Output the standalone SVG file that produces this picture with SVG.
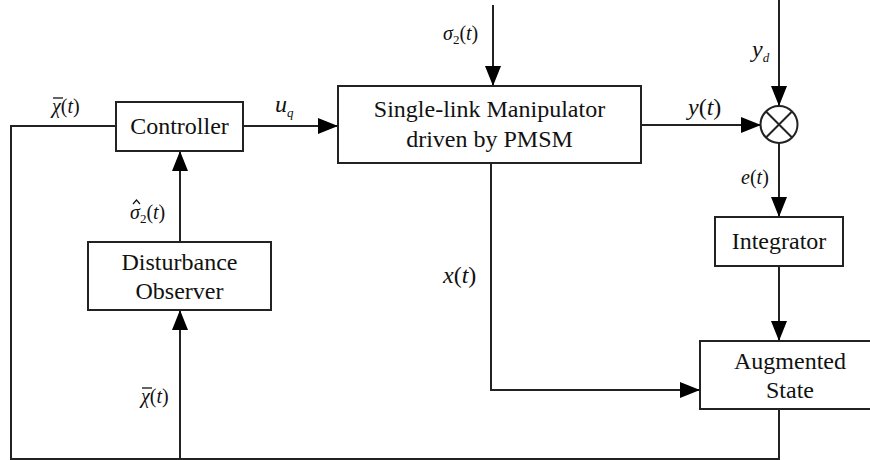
<svg xmlns="http://www.w3.org/2000/svg" width="870" height="460" viewBox="0 0 870 460">
<style>
.box{fill:#fff;stroke:#222;stroke-width:2}
.ln{fill:none;stroke:#222;stroke-width:2}
text{font-family:"Liberation Serif","Times New Roman",serif;fill:#111}
.t{font-size:24px;text-anchor:middle}
.m{font-style:italic;font-size:20px}
.mb{font-style:italic;font-size:24px}
.s{font-size:13px}
.n{font-style:normal}
</style>
<defs>
<marker id="ar" markerUnits="userSpaceOnUse" markerWidth="20" markerHeight="16" refX="20" refY="8" orient="auto">
<path d="M0,0 L20,8 L0,16 Z" fill="#000"/>
</marker>
</defs>
<g id="connectors">
<path class="ln" d="M243,126 H338" marker-end="url(#ar)"/>
<path class="ln" d="M493,5 V86" marker-end="url(#ar)"/>
<path class="ln" d="M641,125 H761" marker-end="url(#ar)"/>
<path class="ln" d="M779,0 V106" marker-end="url(#ar)"/>
<path class="ln" d="M779,143 V217" marker-end="url(#ar)"/>
<path class="ln" d="M779,266 V341" marker-end="url(#ar)"/>
<path class="ln" d="M180,242 V151" marker-end="url(#ar)"/>
<path class="ln" d="M491,163 V390 H700" marker-end="url(#ar)"/>
<path class="ln" d="M779,409 V459 H11 V126 H116"/>
<path class="ln" d="M180,459 V310" marker-end="url(#ar)"/>
</g>
<g id="controller">
<rect class="box" x="116" y="102" width="127" height="49"/>
<text class="t" x="179.5" y="134">Controller</text>
</g>
<g id="plant">
<rect class="box" x="338" y="86" width="303" height="77"/>
<text class="t" x="489.5" y="117">Single-link Manipulator</text>
<text class="t" x="489.5" y="147">driven by PMSM</text>
</g>
<g id="sum">
<circle cx="779" cy="124.5" r="18.5" fill="#fff" stroke="#222" stroke-width="2"/>
<path class="ln" d="M766,111.5 L792,137.5 M792,111.5 L766,137.5"/>
</g>
<g id="integrator">
<rect class="box" x="715" y="217" width="128" height="49"/>
<text class="t" x="779" y="249">Integrator</text>
</g>
<g id="observer">
<rect class="box" x="88" y="242" width="183" height="68"/>
<text class="t" x="179.5" y="270">Disturbance</text>
<text class="t" x="179.5" y="299">Observer</text>
</g>
<g id="augmented">
<rect class="box" x="700" y="341" width="190" height="68"/>
<text class="t" x="790" y="369">Augmented</text>
<text class="t" x="790" y="398">State</text>
</g>
<g id="labels">
<text class="m" x="52" y="113">χ<tspan class="n">(</tspan>t<tspan class="n">)</tspan></text>
<line x1="53" y1="98" x2="63" y2="98" stroke="#111" stroke-width="1.3"/>
<text class="mb" x="275" y="112">u<tspan class="s" dy="5">q</tspan></text>
<text class="m" x="443" y="40">σ<tspan class="s n" dy="4">2</tspan><tspan class="n" dy="-4">(</tspan>t<tspan class="n">)</tspan></text>
<text class="mb" x="752" y="57">y<tspan class="s" dy="5">d</tspan></text>
<text class="mb" x="688" y="115">y<tspan class="n">(</tspan>t<tspan class="n">)</tspan></text>
<text class="m" x="741" y="184">e<tspan class="n">(</tspan>t<tspan class="n">)</tspan></text>
<text class="m" x="130" y="219">σ<tspan class="s n" dy="4">2</tspan><tspan class="n" dy="-4">(</tspan>t<tspan class="n">)</tspan></text>
<path d="M133,204 L136.5,200 L140,204" fill="none" stroke="#111" stroke-width="1.2"/>
<text class="mb" x="443" y="283">x<tspan class="n">(</tspan>t<tspan class="n">)</tspan></text>
<text class="m" x="141" y="403">χ<tspan class="n">(</tspan>t<tspan class="n">)</tspan></text>
<line x1="142" y1="388" x2="152" y2="388" stroke="#111" stroke-width="1.3"/>
</g>
</svg>
